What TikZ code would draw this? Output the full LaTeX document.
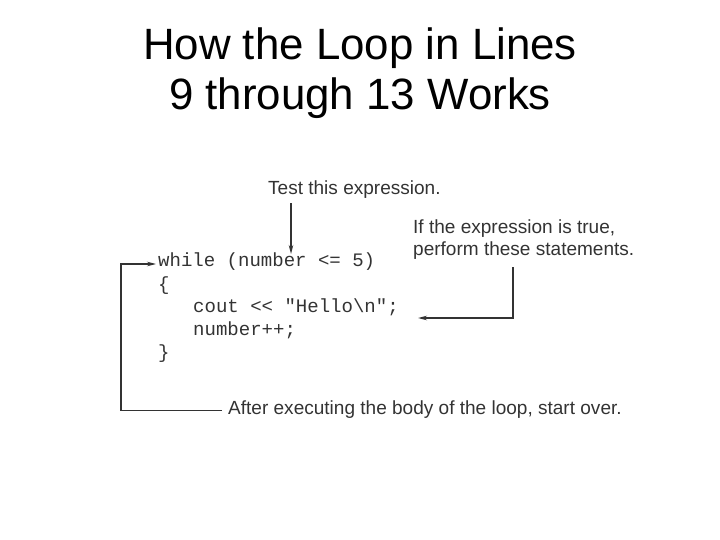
\documentclass[tikz,border=0pt]{standalone}
\usepackage{fontspec}
\setmainfont{Liberation Sans}
\setmonofont{Liberation Mono}
\usepackage{xcolor}
\definecolor{textgray}{RGB}{51,51,51}
\usetikzlibrary{arrows.meta, positioning}

\tikzset{
  titletext/.style={font=\fontsize{44}{50}\selectfont, text=black, align=center, inner sep=0pt},
  notetext/.style={font=\fontsize{19.1}{23}\selectfont, text=textgray, align=left, inner sep=0pt, anchor=base west},
  codetext/.style={font=\ttfamily\fontsize{19.1}{23}\selectfont, text=textgray, inner sep=0pt, anchor=base west},
  looparrow/.style={draw=textgray, line width=1.1pt, -{Stealth[length=9bp, width=4.5bp]}},
}

\begin{document}
\begin{tikzpicture}[x=1bp, y=-1bp]
  \useasboundingbox (0,0) rectangle (720,540);

  % Title
  \node[titletext, anchor=base] (title1) at (360,60) {How the Loop in Lines};
  \node[titletext, anchor=base] (title2) at (360,110) {9 through 13 Works};

  % Code lines
  \node[codetext] (while) at (158,267) {while (number <= 5)};
  \node[codetext] (open)  at (158,290) {\{};
  \node[codetext] (cout)  at (193,312) {cout << "Hello\textbackslash n";};
  \node[codetext] (incr)  at (193,335) {number++;};
  \node[codetext] (close) at (158,358) {\}};

  % Notes
  \node[notetext] (test) at (268,195) {Test this expression.};
  \node[notetext] (true) at (413,256) {If the expression is true,\\perform these statements.};
  \node[notetext] (after) at (228,414) {After executing the body of the loop, start over.};

  % Arrow ends
  \coordinate (testend) at (291,254);
  \coordinate (truedrop) at (513,267);
  \coordinate (coutin) at (418,318);
  \coordinate (loopx) at (121,0);
  \coordinate (whilein) at (156,264);

  % Connectors
  \draw[looparrow] (test.south -| testend) ++(0,4) -- (testend);
  \draw[looparrow] (truedrop) |- (coutin);
  \draw[looparrow] ([xshift=-6bp, yshift=-1bp]after.west) -- ([yshift=-1bp]after.west -| loopx) |- (whilein);
\end{tikzpicture}
\end{document}
